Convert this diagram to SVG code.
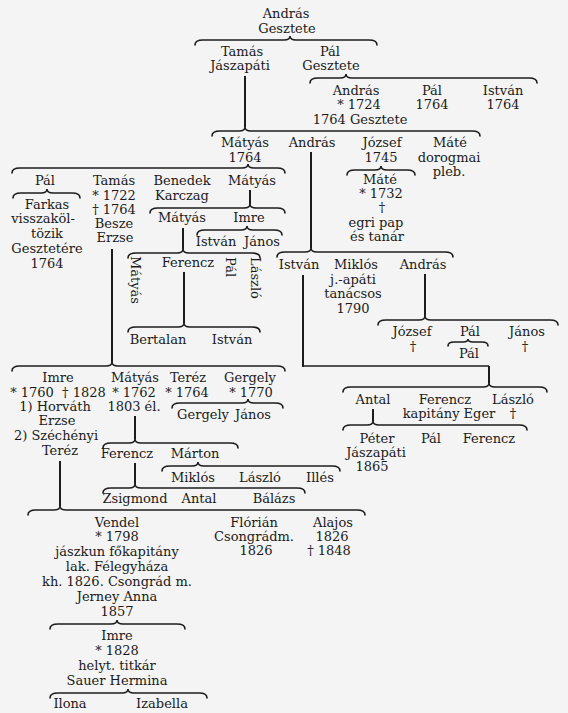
<svg xmlns="http://www.w3.org/2000/svg" width="568" height="713" viewBox="0 0 568 713">
<style>
text{font-family:"DejaVu Serif","Liberation Serif",serif;font-size:13px;fill:#1a1a1a;text-anchor:middle}
.br{fill:none;stroke:#1c1c1c;stroke-width:1.6;stroke-linecap:round}
.ln{fill:none;stroke:#1c1c1c;stroke-width:2}
.hl{fill:none;stroke:#1c1c1c;stroke-width:1.3}
</style>
<rect width="568" height="713" fill="#f4f4f4"/>
<g id="connectors">
<path class="br" d="M195,45 C195,41 198,40 203,40 L284,40 C288,40 290,39 290,36 C290,39 292,40 296,40 L369,40 C374,40 377,41 377,45"/>
<path class="br" d="M310,83 C310,79 313,78 318,78 L340,78 C344,78 346,77 346,74 C346,77 348,78 352,78 L529,78 C534,78 537,79 537,83"/>
<path class="br" d="M212,136 C212,132 215,131 220,131 L239,131 C243,131 245,130 245,127 C245,130 247,131 251,131 L472,131 C477,131 480,132 480,136"/>
<path class="br" d="M12,173 C12,169 15,168 20,168 L242,168 C246,168 248,167 248,164 C248,167 250,168 254,168 L277,168 C282,168 285,169 285,173"/>
<path class="br" d="M347,175 C347,171 350,170 355,170 L375,170 C379,170 381,169 381,166 C381,169 383,170 387,170 L407,170 C412,170 415,171 415,175"/>
<path class="br" d="M13,198 C13,194 16,193 21,193 L41,193 C45,193 47,192 47,189 C47,192 49,193 53,193 L72,193 C77,193 80,194 80,198"/>
<path class="br" d="M150,213 C150,209 153,208 158,208 L244,208 C248,208 250,207 250,204 C250,207 252,208 256,208 L277,208 C282,208 285,209 285,213"/>
<path class="br" d="M197,235 C197,231 200,230 205,230 L241,230 C245,230 247,229 247,226 C247,229 249,230 253,230 L274,230 C279,230 282,231 282,235"/>
<path class="br" d="M128,258 C128,254 131,253 136,253 L177,253 C181,253 183,252 183,249 C183,252 185,253 189,253 L252,253 C257,253 260,254 260,258"/>
<path class="br" d="M128,332 C128,328 131,327 136,327 L178,327 C182,327 184,326 184,323 C184,326 186,327 190,327 L252,327 C257,327 260,328 260,332"/>
<path class="br" d="M277,257 C277,253 280,252 285,252 L305,252 C309,252 311,251 311,248 C311,251 313,252 317,252 L445,252 C450,252 453,253 453,257"/>
<path class="br" d="M378,325 C378,321 381,320 386,320 L419,320 C423,320 425,319 425,316 C425,319 427,320 431,320 L550,320 C555,320 558,321 558,325"/>
<path class="br" d="M448,346 C448,343 450,342 454,342 L463,342 C466,342 468,341 468,339 C468,341 470,342 473,342 L482,342 C486,342 488,343 488,346"/>
<path class="br" d="M343,392 C343,388 346,387 351,387 L483,387 C487,387 489,386 489,383 C489,386 491,387 495,387 L539,387 C544,387 547,388 547,392"/>
<path class="br" d="M343,430 C343,426 346,425 351,425 L367,425 C371,425 373,424 373,421 C373,424 375,425 379,425 L519,425 C524,425 527,426 527,430"/>
<path class="br" d="M12,371 C12,367 15,366 20,366 L106,366 C110,366 112,365 112,362 C112,365 114,366 118,366 L277,366 C282,366 285,367 285,371"/>
<path class="br" d="M172,408 C172,404 175,403 180,403 L242,403 C246,403 248,402 248,399 C248,402 250,403 254,403 L275,403 C280,403 283,404 283,408"/>
<path class="br" d="M103,448 C103,444 106,443 111,443 L129,443 C133,443 135,442 135,439 C135,442 137,443 141,443 L230,443 C235,443 238,444 238,448"/>
<path class="br" d="M162,471 C162,467 165,466 170,466 L192,466 C196,466 198,465 198,462 C198,465 200,466 204,466 L332,466 C337,466 340,467 340,471"/>
<path class="br" d="M103,493 C103,489 106,488 111,488 L129,488 C133,488 135,487 135,484 C135,487 137,488 141,488 L297,488 C302,488 305,489 305,493"/>
<path class="br" d="M28,515 C28,511 31,510 36,510 L54,510 C58,510 60,509 60,506 C60,509 62,510 66,510 L357,510 C362,510 365,511 365,515"/>
<path class="br" d="M50,629 C50,625 53,624 58,624 L111,624 C115,624 117,623 117,620 C117,623 119,624 123,624 L177,624 C182,624 185,625 185,629"/>
<path class="br" d="M50,698 C50,694 53,693 58,693 L122,693 C126,693 128,692 128,689 C128,692 130,693 134,693 L199,693 C204,693 207,694 207,698"/>
<path class="ln" d="M245,76 V127"/>
<path class="ln" d="M311,152 V248"/>
<path class="ln" d="M250,190 V204"/>
<path class="ln" d="M183,228 V249"/>
<path class="ln" d="M184,272 V323"/>
<path class="ln" d="M112,249 V362"/>
<path class="ln" d="M303,275 V367"/>
<path class="hl" d="M303,366 H489"/>
<path class="ln" d="M489,366 V383"/>
<path class="ln" d="M425,274 V316"/>
<path class="ln" d="M373,409 V421"/>
<path class="ln" d="M135,416 V439"/>
<path class="ln" d="M135,463 V484"/>
<path class="ln" d="M60,461 V506"/>
</g>
<g id="n-andras-gesztete"><text x="286" y="18">András</text><text x="287" y="33">Gesztete</text></g>
<g id="n-tamas-jaszapati"><text x="242" y="56">Tamás</text><text x="240" y="70">Jászapáti</text></g>
<g id="n-pal-gesztete"><text x="330" y="56">Pál</text><text x="331" y="70">Gesztete</text></g>
<g id="n-andras-1724"><text x="356" y="95">András</text><text x="359" y="109">* 1724</text><text x="360" y="124">1764 Gesztete</text></g>
<g id="n-pal-1764"><text x="432" y="95">Pál</text><text x="432" y="109">1764</text></g>
<g id="n-istvan-1764"><text x="503" y="95">István</text><text x="503" y="109">1764</text></g>
<g id="n-matyas-1764"><text x="245" y="147">Mátyás</text><text x="245" y="162">1764</text></g>
<g id="n-andras-2"><text x="312" y="147">András</text></g>
<g id="n-jozsef-1745"><text x="382" y="147">József</text><text x="381" y="162">1745</text></g>
<g id="n-mate-dorogmai"><text x="450" y="147">Máté</text><text x="449" y="162">dorogmai</text><text x="449" y="176">pleb.</text></g>
<g id="n-mate-1732"><text x="380" y="184">Máté</text><text x="381" y="198">* 1732</text><text x="382" y="212">†</text><text x="376" y="227">egri pap</text><text x="377" y="241">és tanár</text></g>
<g id="n-pal-2"><text x="45" y="185">Pál</text></g>
<g id="n-farkas"><text x="47" y="209">Farkas</text><text x="43" y="223">visszaköl-</text><text x="47" y="238">tözik</text><text x="47" y="253">Gesztetére</text><text x="47" y="268">1764</text></g>
<g id="n-tamas-1722"><text x="114" y="185">Tamás</text><text x="114" y="200">* 1722</text><text x="114" y="214">† 1764</text><text x="114" y="228">Besze</text><text x="115" y="242">Erzse</text></g>
<g id="n-benedek"><text x="182" y="185">Benedek</text><text x="182" y="200">Karczag</text></g>
<g id="n-matyas-3"><text x="252" y="185">Mátyás</text></g>
<g id="n-matyas-4"><text x="182" y="222">Mátyás</text></g>
<g id="n-imre-2"><text x="249" y="222">Imre</text></g>
<g id="n-istvan-2"><text x="216" y="246">István</text></g>
<g id="n-janos-2"><text x="262" y="246">János</text></g>
<g id="n-matyas-rot"><text transform="translate(131,280) rotate(90)">Mátyás</text></g>
<g id="n-ferencz-2"><text x="188" y="267">Ferencz</text></g>
<g id="n-pal-rot"><text transform="translate(226,267) rotate(90)">Pál</text></g>
<g id="n-laszlo-rot"><text transform="translate(251,278) rotate(90)">László</text></g>
<g id="n-bertalan"><text x="158" y="344">Bertalan</text></g>
<g id="n-istvan-3"><text x="232" y="344">István</text></g>
<g id="n-istvan-4"><text x="299" y="269">István</text></g>
<g id="n-miklos"><text x="356" y="269">Miklós</text><text x="353" y="284">j.-apáti</text><text x="353" y="298">tanácsos</text><text x="353" y="313">1790</text></g>
<g id="n-andras-3"><text x="423" y="269">András</text></g>
<g id="n-jozsef-2"><text x="412" y="336">József</text><text x="413" y="351">†</text></g>
<g id="n-pal-3"><text x="470" y="336">Pál</text></g>
<g id="n-janos-3"><text x="527" y="336">János</text><text x="525" y="351">†</text></g>
<g id="n-pal-4"><text x="469" y="358">Pál</text></g>
<g id="n-antal-2"><text x="373" y="404">Antal</text></g>
<g id="n-ferencz-3"><text x="445" y="404">Ferencz</text><text x="449" y="418">kapitány Eger</text></g>
<g id="n-laszlo-2"><text x="513" y="404">László</text><text x="513" y="418">†</text></g>
<g id="n-peter"><text x="377" y="443">Péter</text><text x="376" y="457">Jászapáti</text><text x="372" y="471">1865</text></g>
<g id="n-pal-5"><text x="431" y="443">Pál</text></g>
<g id="n-ferencz-4"><text x="489" y="443">Ferencz</text></g>
<g id="n-imre-1760"><text x="58" y="382">Imre</text><text x="58" y="397">* 1760 &#160;† 1828</text><text x="55" y="411">1) Horváth</text><text x="57" y="425">Erzse</text><text x="56" y="440">2) Széchényi</text><text x="60" y="455">Teréz</text></g>
<g id="n-matyas-1762"><text x="135" y="382">Mátyás</text><text x="134" y="397">* 1762</text><text x="134" y="411">1803 él.</text></g>
<g id="n-terez-1764"><text x="188" y="382">Teréz</text><text x="187" y="397">* 1764</text></g>
<g id="n-gergely-1770"><text x="250" y="382">Gergely</text><text x="251" y="397">* 1770</text></g>
<g id="n-gergely-2"><text x="203" y="419">Gergely</text></g>
<g id="n-janos-4"><text x="253" y="419">János</text></g>
<g id="n-ferencz-5"><text x="127" y="458">Ferencz</text></g>
<g id="n-marton"><text x="195" y="458">Márton</text></g>
<g id="n-miklos-2"><text x="193" y="482">Miklós</text></g>
<g id="n-laszlo-3"><text x="260" y="482">László</text></g>
<g id="n-illes"><text x="320" y="482">Illés</text></g>
<g id="n-zsigmond"><text x="135" y="503">Zsigmond</text></g>
<g id="n-antal-3"><text x="199" y="503">Antal</text></g>
<g id="n-balazs"><text x="274" y="503">Bálázs</text></g>
<g id="n-vendel"><text x="117" y="527">Vendel</text><text x="117" y="541">* 1798</text><text x="117" y="556">jászkun főkapitány</text><text x="117" y="571">lak. Félegyháza</text><text x="117" y="586">kh. 1826. Csongrád m.</text><text x="117" y="601">Jerney Anna</text><text x="117" y="616">1857</text></g>
<g id="n-florian"><text x="254" y="527">Flórián</text><text x="254" y="541">Csongrádm.</text><text x="256" y="555">1826</text></g>
<g id="n-alajos"><text x="333" y="527">Alajos</text><text x="332" y="541">1826</text><text x="329" y="555">† 1848</text></g>
<g id="n-imre-1828"><text x="117" y="640">Imre</text><text x="117" y="655">* 1828</text><text x="117" y="670">helyt. titkár</text><text x="117" y="685">Sauer Hermina</text></g>
<g id="n-ilona"><text x="70" y="708">Ilona</text></g>
<g id="n-izabella"><text x="162" y="708">Izabella</text></g>
</svg>
